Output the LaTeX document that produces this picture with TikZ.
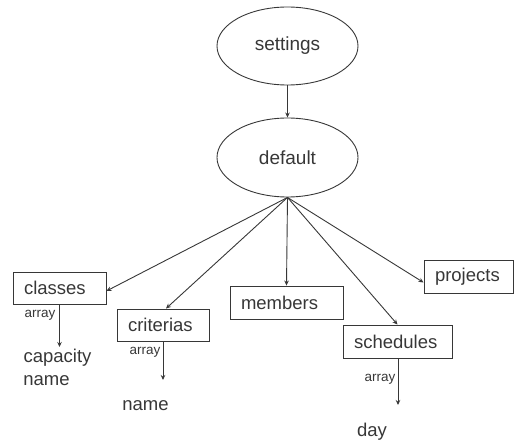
\documentclass[tikz,border=0pt]{standalone}
\usepackage{fontspec}
\setmainfont{Liberation Sans}
\usetikzlibrary{shapes.geometric,arrows.meta}
\definecolor{ink}{RGB}{55,55,55}
\begin{document}
\begin{tikzpicture}[x=1pt,y=-1pt,
  every node/.style={text=ink},
  oval/.style={draw=ink,line width=0.9pt,ellipse,minimum width=141pt,minimum height=78pt,font=\fontsize{19}{22}\selectfont,inner sep=0pt},
  box/.style={draw=ink,line width=0.9pt,rectangle,inner xsep=11pt,inner ysep=0pt,align=left,minimum height=33pt,font=\fontsize{18.5}{22}\selectfont},
  small/.style={font=\fontsize{13.5}{15}\selectfont,inner sep=0pt},
  lbl/.style={font=\fontsize{18.5}{22}\selectfont,inner sep=0pt},
  arr/.style={draw=ink,line width=0.9pt,-{Stealth[length=5pt,width=4.5pt]}}]
\useasboundingbox (0,0) rectangle (515,441);
\node[oval] (settings) at (287.5,46) {settings};
\node[oval,minimum height=79pt] (default) at (287.5,157.5) {default};
\node[box,text width=71pt,minimum height=32pt] (classes) at (59.5,288) {classes};
\node[box,text width=70pt,minimum height=32pt] (criterias) at (163,325) {criterias};
\node[box,text width=91pt] (members) at (286.5,302.5) {members};
\node[box,text width=87pt] (schedules) at (397.5,341.5) {schedules};
\node[box,text width=67pt] (projects) at (468.5,276.5) {projects};
\draw[arr] (settings) -- (default);
\draw[arr] (default.south) -- ([yshift=-3pt]classes.east);
\draw[arr] (default.south) -- ([xshift=3pt]criterias.north);
\draw[arr] (default.south) -- (members.north);
\draw[arr] (default.south) -- (schedules.north);
\draw[arr] (default.south) -- ([yshift=-6pt]projects.west);
\coordinate (c1) at (59.5,347);
\coordinate (c2) at (163,380);
\coordinate (c3) at (398,405);
\draw[arr] (classes.south) -- (c1);
\draw[arr] (criterias.south) -- (c2);
\draw[arr] ([xshift=0.5pt]schedules.south) -- (c3);
\node[small] (a1) at (40,315) {array};
\node[small] (a2) at (145,352) {array};
\node[small] (a3) at (380,379) {array};
\node[lbl] (cap) at (57.5,358) {capacity};
\node[lbl] (n1) at (46.5,381) {name};
\node[lbl] (n2) at (145.5,406) {name};
\node[lbl] (day) at (372,432) {day};
\end{tikzpicture}
\end{document}
